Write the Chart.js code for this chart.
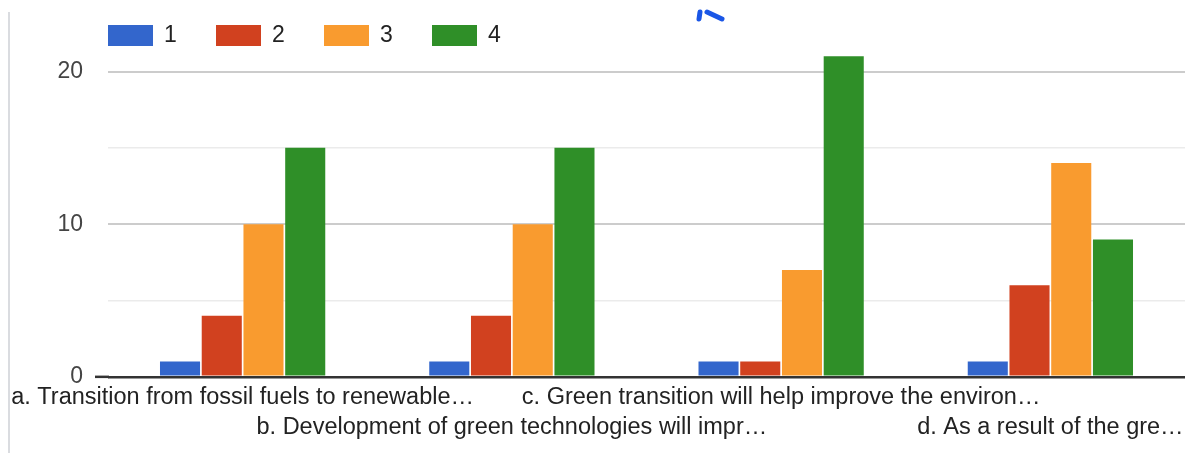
<!DOCTYPE html>
<html>
<head>
<meta charset="utf-8">
<title>Survey answers</title>
<script src="https://cdn.jsdelivr.net/npm/chart.js@4.4.1/dist/chart.umd.min.js"></script>
<style>
  html, body { margin: 0; padding: 0; background: #fff; overflow: hidden; }
  #wrap { position: relative; width: 1185px; height: 453px; }
  #edge { position: absolute; left: 8px; top: 12px; bottom: 0; width: 2px; background: #dadce0; }
</style>
</head>
<body>
<div id="wrap">
  <canvas id="myChart" width="1185" height="453"></canvas>
  <div id="edge"></div>
</div>
<script>
var categories = [
  'a. Transition from fossil fuels to renewable…',
  'b. Development of green technologies will impr…',
  'c. Green transition will help improve the environ…',
  'd. As a result of the gre…'
];
var seriesNames = ['1', '2', '3', '4'];
var answers1 = [1, 1, 1, 1];
var answers2 = [4, 4, 1, 6];
var answers3 = [10, 10, 7, 14];
var answers4 = [15, 15, 21, 9];
var yLabels = [0, 10, 20];
var colors = ['#3366cc', '#d1411f', '#f99b2f', '#2f8f28'];

Chart.defaults.font.family = '"Liberation Sans", Arial, sans-serif';
Chart.defaults.font.size = 23;

// legend row across the top, boxes first then the label
var topLegend = {
  id: 'topLegend',
  afterDraw: function(chart) {
    var c = chart.ctx;
    var area = chart.chartArea;
    c.save();
    c.font = '23px "Liberation Sans", Arial, sans-serif';
    c.textBaseline = 'middle';
    c.textAlign = 'left';
    chart.data.datasets.forEach(function(ds, i) {
      var x = area.left + i * 108;
      c.fillStyle = ds.backgroundColor;
      c.fillRect(x, 25, 45, 21);
      c.fillStyle = '#222';
      c.fillText(ds.label, x + 56, 36);
    });
    // baseline runs a bit past the left edge of the plot
    c.fillStyle = '#333333';
    c.fillRect(area.left - 13, area.bottom - 1.25, 14, 2.5);
    // little blue icon stub peeking in at the top edge
    c.strokeStyle = '#1a56e6';
    c.lineWidth = 5;
    c.lineCap = 'round';
    c.beginPath();
    c.moveTo(700, 12); c.lineTo(699, 19);
    c.moveTo(707, 12); c.lineTo(722, 19);
    c.stroke();
    c.restore();
  }
};

var seriesData = [answers1, answers2, answers3, answers4];
var datasets = seriesNames.map(function(name, i) {
  return {
    label: name,
    data: seriesData[i],
    backgroundColor: colors[i],
    borderWidth: 0,
    barPercentage: 0.96,
    categoryPercentage: 0.62
  };
});

var ctx = document.getElementById('myChart').getContext('2d');
var myChart = new Chart(ctx, {
  type: 'bar',
  data: { labels: categories, datasets: datasets },
  options: {
    responsive: false,
    animation: false,
    layout: { padding: { top: 41, bottom: 4, left: 0, right: 0 } },
    plugins: { legend: { display: false }, tooltip: { enabled: false } },
    scales: {
      x: {
        grid: { display: false, drawTicks: false },
        border: { display: false },
        ticks: {
          autoSkip: false,
          maxRotation: 0,
          minRotation: 0,
          padding: 6,
          color: '#222',
          font: { size: 23.5, lineHeight: 1.28 },
          // every second label drops to a second row
          callback: function(v, i) {
            return i % 2 ? ['', categories[i]] : categories[i];
          }
        },
        afterFit: function(scale) {
          scale.paddingLeft = 0;
          scale.paddingRight = 0;
        }
      },
      y: {
        min: 0,
        max: 22,
        border: { display: false },
        grid: {
          drawTicks: false,
          color: function(c) {
            var v = c.tick.value;
            if (v === 0) return '#333333';
            return yLabels.indexOf(v) >= 0 ? '#cccccc' : '#ebebeb';
          },
          lineWidth: function(c) {
            var v = c.tick.value;
            if (v === 0) return 2.5;
            return yLabels.indexOf(v) >= 0 ? 2 : 1.5;
          }
        },
        ticks: {
          stepSize: 5,
          includeBounds: false,
          padding: 25,
          color: '#444',
          font: { size: 23 },
          callback: function(v) {
            return yLabels.indexOf(v) >= 0 ? v : '';
          }
        },
        afterFit: function(scale) {
          scale.width = 108;
        }
      }
    }
  },
  plugins: [topLegend]
});
</script>
</body>
</html>
